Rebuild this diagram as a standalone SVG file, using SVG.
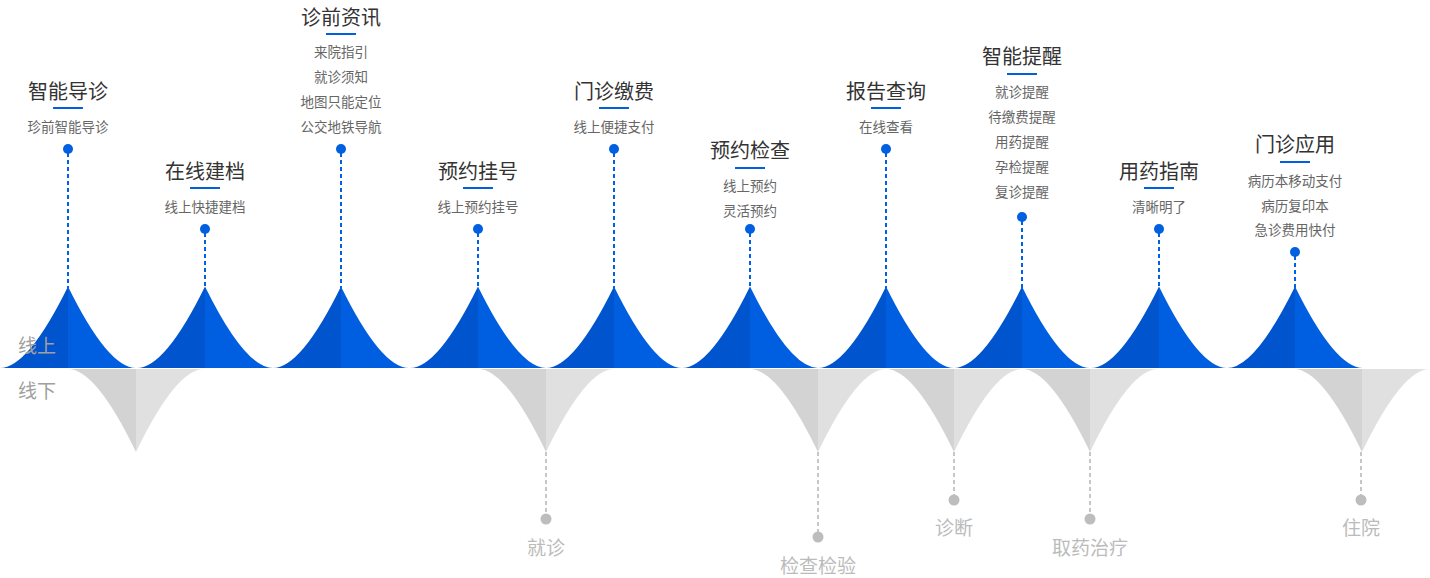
<svg xmlns="http://www.w3.org/2000/svg" width="1430" height="578" viewBox="0 0 1430 578">
<style>
.bl{fill:#0054cd}.br{fill:#005ee0}.gl{fill:#d3d3d3}.gr{fill:#e0e0e0}
.t{font-family:"Noto Sans CJK SC","Noto Sans",sans-serif;font-size:20px;fill:#333;text-anchor:middle;dominant-baseline:central}
.s{font-family:"Noto Sans CJK SC","Noto Sans",sans-serif;font-size:13.5px;fill:#666;text-anchor:middle;dominant-baseline:central}
.g{font-family:"Noto Sans CJK SC","Noto Sans",sans-serif;font-size:19px;fill:#bbb;text-anchor:middle;dominant-baseline:central}
.side{font-family:"Noto Sans CJK SC","Noto Sans",sans-serif;font-size:19px;fill:#a0a0a0;dominant-baseline:central}
.u{fill:#0060e0}
.bd{stroke:#0062e0;stroke-width:2;stroke-dasharray:4 3;fill:none}
.gd{stroke:#c6c6c6;stroke-width:2;stroke-dasharray:4 3;fill:none}
.bdot{fill:#0060e0}.gdot{fill:#bdbdbd}
</style>
<defs>
<g id="peak">
<path class="bl" d="M-68,368 Q-40,368 0,286.5 L0,368 Z"/>
<path class="br" d="M0,286.5 Q40,368 68,368 L0,368 Z"/>
</g>
<g id="vall">
<path class="gl" d="M-68,369 Q-40,369 0,452 L0,369 Z"/>
<path class="gr" d="M0,452 Q40,369 68,369 L0,369 Z"/>
</g>
</defs>
<g id="shapes">
<use href="#vall" x="136"/>
<use href="#vall" x="546"/>
<use href="#vall" x="818"/>
<use href="#vall" x="954"/>
<use href="#vall" x="1090"/>
<use href="#vall" x="1362"/>
<use href="#peak" x="68"/>
<use href="#peak" x="205"/>
<use href="#peak" x="341"/>
<use href="#peak" x="478"/>
<use href="#peak" x="614"/>
<use href="#peak" x="750"/>
<use href="#peak" x="886"/>
<use href="#peak" x="1022"/>
<use href="#peak" x="1159"/>
<use href="#peak" x="1295"/>
</g>
<g id="connectors">
<line class="bd" x1="68" y1="153" x2="68" y2="288"/>
<line class="bd" x1="205" y1="233" x2="205" y2="288"/>
<line class="bd" x1="341" y1="153" x2="341" y2="288"/>
<line class="bd" x1="478" y1="233" x2="478" y2="288"/>
<line class="bd" x1="614" y1="153" x2="614" y2="288"/>
<line class="bd" x1="750" y1="233" x2="750" y2="288"/>
<line class="bd" x1="886" y1="153" x2="886" y2="288"/>
<line class="bd" x1="1022" y1="221" x2="1022" y2="288"/>
<line class="bd" x1="1159" y1="233" x2="1159" y2="288"/>
<line class="bd" x1="1295" y1="256" x2="1295" y2="288"/>
<line class="gd" x1="546" y1="452" x2="546" y2="515"/>
<line class="gd" x1="818" y1="452" x2="818" y2="533"/>
<line class="gd" x1="954" y1="452" x2="954" y2="496"/>
<line class="gd" x1="1090" y1="452" x2="1090" y2="515"/>
<line class="gd" x1="1361" y1="452" x2="1361" y2="496"/>
</g>
<text class="side" x="18" y="344">线上</text>
<text class="side" x="18" y="389">线下</text>
<g id="n1">
<text class="t" x="68" y="90">智能导诊</text><rect class="u" x="53" y="107" width="30" height="2"/>
<text class="s" x="68" y="126">珍前智能导诊</text><circle class="bdot" cx="68" cy="149" r="5"/>
</g>
<g id="n2">
<text class="t" x="205" y="170">在线建档</text><rect class="u" x="190" y="187" width="30" height="2"/>
<text class="s" x="205" y="206">线上快捷建档</text><circle class="bdot" cx="205" cy="229" r="5"/>
</g>
<g id="n3">
<text class="t" x="341" y="16">诊前资讯</text><rect class="u" x="326" y="33" width="30" height="2"/>
<text class="s" x="341" y="51">来院指引</text>
<text class="s" x="341" y="76">就诊须知</text>
<text class="s" x="341" y="101">地图只能定位</text>
<text class="s" x="341" y="126">公交地铁导航</text>
<circle class="bdot" cx="341" cy="149" r="5"/>
</g>
<g id="n4">
<text class="t" x="478" y="170">预约挂号</text><rect class="u" x="463" y="187" width="30" height="2"/>
<text class="s" x="478" y="206">线上预约挂号</text><circle class="bdot" cx="478" cy="229" r="5"/>
</g>
<g id="n5">
<text class="t" x="614" y="90">门诊缴费</text><rect class="u" x="599" y="107" width="30" height="2"/>
<text class="s" x="614" y="126">线上便捷支付</text><circle class="bdot" cx="614" cy="149" r="5"/>
</g>
<g id="n6">
<text class="t" x="750" y="149">预约检查</text><rect class="u" x="735" y="167" width="30" height="2"/>
<text class="s" x="750" y="185">线上预约</text>
<text class="s" x="750" y="210">灵活预约</text>
<circle class="bdot" cx="750" cy="229" r="5"/>
</g>
<g id="n7">
<text class="t" x="886" y="90">报告查询</text><rect class="u" x="871" y="107" width="30" height="2"/>
<text class="s" x="886" y="126">在线查看</text><circle class="bdot" cx="886" cy="149" r="5"/>
</g>
<g id="n8">
<text class="t" x="1022" y="55">智能提醒</text><rect class="u" x="1007" y="73" width="30" height="2"/>
<text class="s" x="1022" y="91">就诊提醒</text>
<text class="s" x="1022" y="116">待缴费提醒</text>
<text class="s" x="1022" y="141">用药提醒</text>
<text class="s" x="1022" y="166">孕检提醒</text>
<text class="s" x="1022" y="191">复诊提醒</text>
<circle class="bdot" cx="1022" cy="217" r="5"/>
</g>
<g id="n9">
<text class="t" x="1159" y="170">用药指南</text><rect class="u" x="1144" y="187" width="30" height="2"/>
<text class="s" x="1159" y="206">清晰明了</text><circle class="bdot" cx="1159" cy="229" r="5"/>
</g>
<g id="n10">
<text class="t" x="1295" y="143">门诊应用</text><rect class="u" x="1280" y="161" width="30" height="2"/>
<text class="s" x="1295" y="180">病历本移动支付</text>
<text class="s" x="1295" y="205">病历复印本</text>
<text class="s" x="1295" y="229">急诊费用快付</text>
<circle class="bdot" cx="1295" cy="252" r="5"/>
</g>
<g id="o1"><circle class="gdot" cx="546" cy="519" r="5.5"/><text class="g" x="546" y="546">就诊</text></g>
<g id="o2"><circle class="gdot" cx="818" cy="537" r="5.5"/><text class="g" x="818" y="564">检查检验</text></g>
<g id="o3"><circle class="gdot" cx="954" cy="500" r="5.5"/><text class="g" x="954" y="526">诊断</text></g>
<g id="o4"><circle class="gdot" cx="1090" cy="519" r="5.5"/><text class="g" x="1090" y="546">取药治疗</text></g>
<g id="o5"><circle class="gdot" cx="1361" cy="500" r="5.5"/><text class="g" x="1361" y="526">住院</text></g>
</svg>
